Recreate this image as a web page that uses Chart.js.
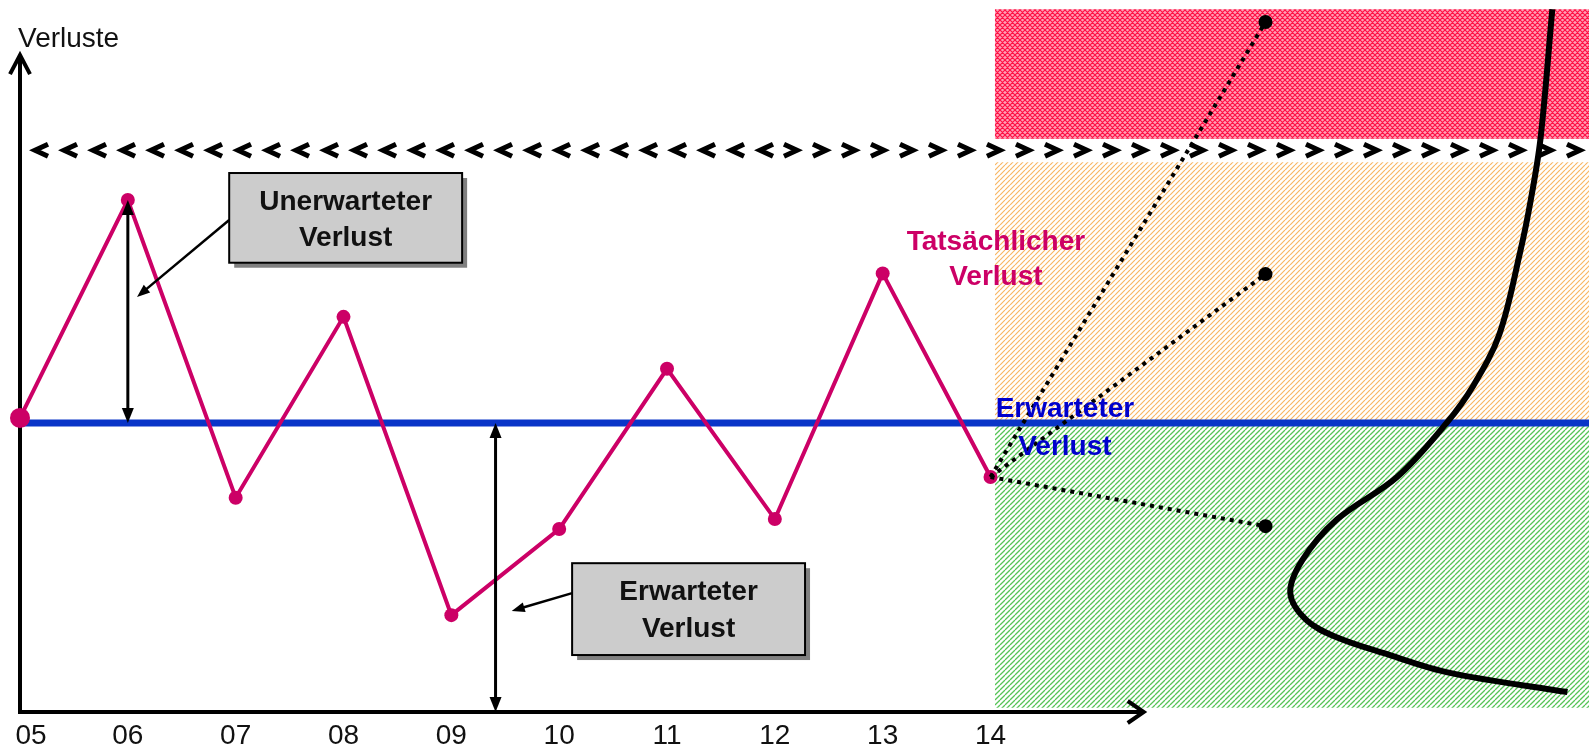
<!DOCTYPE html>
<html>
<head>
<meta charset="utf-8">
<script src="https://cdn.jsdelivr.net/npm/chart.js@4/dist/chart.umd.min.js"></script>
<style>
  html, body { margin: 0; padding: 0; background: #fff; }
  canvas { display: block; }
</style>
</head>
<body>
<canvas id="c" width="1589" height="749"></canvas>
<script>
// Years on the time axis and their labels
const yearPos = [5, 6, 7, 8, 9, 10, 11, 12, 13, 14];
const yearLabels = ['05', '06', '07', '08', '09', '10', '11', '12', '13', '14'];

// Actual losses per year
const actualLoss = [4.13, 7.19, 3.01, 5.55, 1.36, 2.57, 4.82, 2.71, 6.16, 3.30];

// Expected loss level and the loss limit (chevron line)
const expectedLoss = 4.06;
const lossLimit = 7.89;

// Forecast scenarios starting at the last actual loss
const scenarioYear = 16.55;
const scenarioEnds = [9.69, 6.15, 2.61];

// Forecast zones (lower / upper bound)
const forecastStart = 14.04;
const redZone = [8.05, 9.87];
const orangeZone = [7.72, 4.06];
const greenZone = [0.06, 4.06];

// Loss distribution curve
const distX = [19.21, 19.10, 19.01, 18.91, 18.72, 18.48, 18.23, 17.77, 17.21, 16.89, 16.78, 16.93, 17.21, 17.64, 18.26, 19.35];
const distY = [9.87, 8.05, 7.19, 6.45, 5.31, 4.59, 4.06, 3.30, 2.70, 2.13, 1.67, 1.29, 1.05, 0.83, 0.55, 0.28];

// Axis ranges
const xMin = 5, xMax = 19.55, yMin = 0, yMax = 10;

const canvas = document.getElementById('c');
const mainCtx = canvas.getContext('2d');

// Hatch pattern tiles
function hatch(bg, fg, size, width, cross) {
  const tile = document.createElement('canvas');
  tile.width = tile.height = size;
  const g = tile.getContext('2d');
  g.fillStyle = bg;
  g.fillRect(0, 0, size, size);
  g.strokeStyle = fg;
  g.lineWidth = width;
  g.beginPath();
  for (const o of [-size, 0, size]) {
    g.moveTo(o, size); g.lineTo(o + size, 0);
  }
  if (cross) {
    for (const o of [-size, 0, size]) {
      g.moveTo(o, 0); g.lineTo(o + size, size);
    }
  }
  g.stroke();
  return mainCtx.createPattern(tile, 'repeat');
}

const redPattern = hatch('#ffa0b4', '#ff1045', 5, 1.2, true);
const orangePattern = hatch('#ffffff', '#f8b764', 5, 1.2, false);
const greenPattern = hatch('#ffffff', '#55c455', 5, 1.3, false);

const FONT = '"Liberation Sans", Arial, Helvetica, sans-serif';
Chart.defaults.font.family = FONT;

function zone(bounds, pattern) {
  const lo = Math.min(bounds[0], bounds[1]);
  const hi = Math.max(bounds[0], bounds[1]);
  return {
    data: [{ x: forecastStart, y: hi }, { x: xMax, y: hi }],
    fill: { value: lo },
    backgroundColor: pattern,
    borderColor: 'rgba(0,0,0,0)',
    borderWidth: 1,
    pointRadius: 0,
    order: 10
  };
}

const lastYear = yearPos[yearPos.length - 1];
const lastLoss = actualLoss[actualLoss.length - 1];

const datasets = [
  zone(redZone, redPattern),
  zone(orangeZone, orangePattern),
  zone(greenZone, greenPattern),
  {
    data: [{ x: xMin, y: expectedLoss }, { x: xMax, y: expectedLoss }],
    borderColor: '#0a35c8',
    borderWidth: 7,
    pointRadius: 0,
    fill: false,
    order: 8
  },
  {
    data: yearPos.map((x, i) => ({ x, y: actualLoss[i] })),
    borderColor: '#cc0066',
    borderWidth: 4,
    pointRadius: yearPos.map((x, i) => (i === 0 ? 10 : 7)),
    pointBackgroundColor: '#cc0066',
    pointBorderWidth: 0,
    fill: false,
    clip: false,
    order: 6
  },
  ...scenarioEnds.map(v => ({
    data: [{ x: lastYear, y: lastLoss }, { x: scenarioYear, y: v }],
    borderColor: '#000',
    borderWidth: 4,
    borderDash: [4, 5],
    borderCapStyle: 'butt',
    pointRadius: [0, 7],
    pointBackgroundColor: '#000',
    pointBorderWidth: 0,
    fill: false,
    order: 5
  })),
  {
    data: distX.map((x, i) => ({ x, y: distY[i] })),
    borderColor: '#000',
    borderWidth: 6,
    tension: 0.35,
    pointRadius: 0,
    fill: false,
    order: 4
  }
];

const BLUE_INDEX = 3;

function filledHead(ctx, x1, y1, x2, y2, len, half) {
  const a = Math.atan2(y2 - y1, x2 - x1);
  ctx.beginPath();
  ctx.moveTo(x2, y2);
  ctx.lineTo(x2 - len * Math.cos(a) + half * Math.sin(a), y2 - len * Math.sin(a) - half * Math.cos(a));
  ctx.lineTo(x2 - len * Math.cos(a) - half * Math.sin(a), y2 - len * Math.sin(a) + half * Math.cos(a));
  ctx.closePath();
  ctx.fill();
}

function arrowLine(ctx, x1, y1, x2, y2, width, len, half, both) {
  const a = Math.atan2(y2 - y1, x2 - x1);
  const sx = both ? x1 + (len - 2) * Math.cos(a) : x1;
  const sy = both ? y1 + (len - 2) * Math.sin(a) : y1;
  ctx.lineWidth = width;
  ctx.beginPath();
  ctx.moveTo(sx, sy);
  ctx.lineTo(x2 - (len - 2) * Math.cos(a), y2 - (len - 2) * Math.sin(a));
  ctx.stroke();
  filledHead(ctx, x1, y1, x2, y2, len, half);
  if (both) filledHead(ctx, x2, y2, x1, y1, len, half);
}

function box(ctx, xs, ys, b) {
  const x1 = xs.getPixelForValue(b.x0), x2 = xs.getPixelForValue(b.x1);
  const y1 = ys.getPixelForValue(b.y0), y2 = ys.getPixelForValue(b.y1);
  ctx.fillStyle = '#808080';
  ctx.fillRect(x1 + 5, y1 + 5, x2 - x1, y2 - y1);
  ctx.fillStyle = '#cccccc';
  ctx.fillRect(x1, y1, x2 - x1, y2 - y1);
  ctx.strokeStyle = '#000';
  ctx.lineWidth = 2;
  ctx.strokeRect(x1, y1, x2 - x1, y2 - y1);
  ctx.fillStyle = '#111';
  ctx.font = 'bold 28px ' + FONT;
  ctx.textAlign = 'center';
  ctx.textBaseline = 'alphabetic';
  const cx = (x1 + x2) / 2;
  b.lines.forEach((t, i) => ctx.fillText(t, cx, ys.getPixelForValue(b.base[i])));
}

const decor = {
  id: 'decor',
  beforeDraw(chart) {
    // the first year label sits just right of the value axis
    const items = chart.scales.x.getLabelItems();
    if (items.length && items[0].label === yearLabels[0]) items[0].options.translation[0] += 11;
  },
  beforeDatasetDraw(chart, args) {
    if (args.index !== BLUE_INDEX) return;
    const ctx = chart.ctx;
    const xs = chart.scales.x, ys = chart.scales.y;
    const ax = xs.getPixelForValue(xMin);
    const ay = ys.getPixelForValue(yMin);
    ctx.save();
    ctx.strokeStyle = '#000';
    ctx.lineWidth = 4;
    ctx.lineJoin = 'miter';
    ctx.lineCap = 'butt';
    // value axis with arrow
    const yTop = ys.getPixelForValue(9.24);
    ctx.beginPath();
    ctx.moveTo(ax, ay + 2);
    ctx.lineTo(ax, yTop + 2);
    ctx.stroke();
    ctx.beginPath();
    ctx.moveTo(ax - 10, yTop + 20);
    ctx.lineTo(ax, yTop + 1);
    ctx.lineTo(ax + 10, yTop + 20);
    ctx.stroke();
    // time axis with arrow
    const xEnd = xs.getPixelForValue(15.43);
    ctx.beginPath();
    ctx.moveTo(ax - 2, ay);
    ctx.lineTo(xEnd - 2, ay);
    ctx.stroke();
    ctx.beginPath();
    ctx.moveTo(xEnd - 17, ay - 11);
    ctx.lineTo(xEnd - 1, ay);
    ctx.lineTo(xEnd - 17, ay + 11);
    ctx.stroke();
    // chevron limit line
    const cy = ys.getPixelForValue(lossLimit);
    ctx.lineWidth = 5;
    const step = 29;
    let cx = ax + 21;
    let lastLeft = cx;
    for (let k = 0; k < 26; k++, cx += step) {
      ctx.beginPath();
      ctx.moveTo(cx + 7, cy - 6);
      ctx.lineTo(cx - 6, cy);
      ctx.lineTo(cx + 7, cy + 6);
      ctx.stroke();
      lastLeft = cx;
    }
    for (cx = lastLeft + 25; cx < chart.width + 10; cx += step) {
      ctx.beginPath();
      ctx.moveTo(cx - 7, cy - 6);
      ctx.lineTo(cx + 6, cy);
      ctx.lineTo(cx - 7, cy + 6);
      ctx.stroke();
    }
    // axis title
    ctx.fillStyle = '#111';
    ctx.font = '28px ' + FONT;
    ctx.textAlign = 'left';
    ctx.textBaseline = 'alphabetic';
    ctx.fillText('Verluste', ax - 2, 47);
    ctx.restore();
  },
  afterDatasetsDraw(chart) {
    const ctx = chart.ctx;
    const xs = chart.scales.x, ys = chart.scales.y;
    const px = v => xs.getPixelForValue(v);
    const py = v => ys.getPixelForValue(v);
    ctx.save();
    ctx.strokeStyle = '#000';
    ctx.fillStyle = '#000';
    // unexpected loss span at year 06
    arrowLine(ctx, px(6), py(expectedLoss), px(6), py(actualLoss[1]), 3, 15, 6, true);
    // expected loss span
    arrowLine(ctx, px(9.41), py(expectedLoss), px(9.41), py(yMin), 3, 15, 6, true);
    // leader lines
    arrowLine(ctx, px(6.94), py(6.91), px(6.085), py(5.83), 2.5, 13, 5, false);
    arrowLine(ctx, px(10.12), py(1.67), px(9.56), py(1.42), 2.5, 13, 5, false);
    // callout boxes
    box(ctx, xs, ys, { x0: 6.94, x1: 9.10, y0: 7.57, y1: 6.31, lines: ['Unerwarteter', 'Verlust'], base: [7.05, 6.545] });
    box(ctx, xs, ys, { x0: 10.12, x1: 12.28, y0: 2.09, y1: 0.80, lines: ['Erwarteter', 'Verlust'], base: [1.573, 1.053] });
    // series labels
    ctx.font = 'bold 28px ' + FONT;
    ctx.textAlign = 'center';
    ctx.textBaseline = 'alphabetic';
    ctx.fillStyle = '#cc0066';
    ctx.fillText('Tatsächlicher', px(14.05), py(6.49));
    ctx.fillText('Verlust', px(14.05), py(6.00));
    ctx.fillStyle = '#0000cc';
    ctx.fillText('Erwarteter', px(14.69), py(4.143));
    ctx.fillText('Verlust', px(14.69), py(3.61));
    ctx.restore();
  }
};

new Chart(canvas, {
  type: 'line',
  data: { datasets },
  options: {
    responsive: false,
    animation: false,
    events: [],
    layout: { autoPadding: false, padding: { left: 20, right: 0, top: 0, bottom: 0 } },
    plugins: { legend: { display: false }, tooltip: { enabled: false }, title: { display: false } },
    scales: {
      x: {
        type: 'linear',
        min: xMin,
        max: xMax,
        grid: { display: false, drawTicks: false },
        border: { display: false },
        ticks: {
          stepSize: 1,
          autoSkip: false,
          maxRotation: 0,
          padding: 7,
          color: '#111',
          font: { size: 28 },
          callback: v => {
            const i = yearPos.indexOf(v);
            return i >= 0 ? yearLabels[i] : '';
          }
        },
        afterFit: s => { s.height = 37; s.paddingLeft = 0; s.paddingRight = 0; }
      },
      y: {
        type: 'linear',
        display: false,
        min: yMin,
        max: yMax
      }
    }
  },
  plugins: [decor]
});
</script>
</body>
</html>
